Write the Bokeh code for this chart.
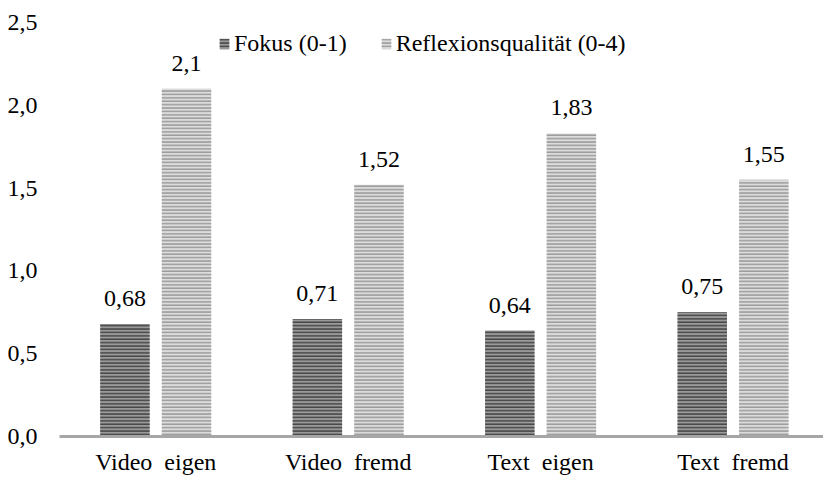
from bokeh.plotting import figure
from bokeh.models import ColumnDataSource, Range1d, FixedTicker, LabelSet, Legend, LegendItem
from bokeh.core.properties import value
from bokeh.transform import dodge
from bokeh.embed import file_html
from bokeh.resources import INLINE

categories = ["Video\u00a0\u00a0eigen", "Video\u00a0\u00a0fremd", "Text\u00a0\u00a0eigen", "Text\u00a0\u00a0fremd"]
fokus = [0.68, 0.71, 0.64, 0.75]
reflexion = [2.1, 1.52, 1.83, 1.55]
series_names = ["Fokus (0-1)", "Reflexionsqualität (0-4)"]
y_ticks = [0.0, 0.5, 1.0, 1.5, 2.0, 2.5]
y_tick_labels = ["0,0", "0,5", "1,0", "1,5", "2,0", "2,5"]

def fmt(v):
    return f"{v:g}".replace(".", ",")

pos = [i + 0.5 for i in range(len(categories))]
src = ColumnDataSource(dict(
    x=pos,
    fokus=fokus,
    reflexion=reflexion,
    fokus_lbl=[fmt(v) for v in fokus],
    refl_lbl=[fmt(v) for v in reflexion],
))

FONT = "Liberation Serif"
FS = "24px"

p = figure(width=823, height=477, output_backend="svg", toolbar_location=None,
           x_range=Range1d(0, 3.97), y_range=Range1d(0, 2.5),
           min_border_left=59, min_border_right=0, min_border_top=22, min_border_bottom=40)
p.outline_line_color = None
p.grid.visible = False

r1 = p.vbar(x=dodge("x", -0.16), top="fokus", width=0.257, source=src,
            fill_color="#9a9a9a", line_color=None,
            hatch_pattern="-", hatch_color="#474747", hatch_scale=3.4, hatch_weight=1.6)
r2 = p.vbar(x=dodge("x", 0.16), top="reflexion", width=0.257, source=src,
            fill_color="#dcdcdc", line_color=None,
            hatch_pattern="-", hatch_color="#9c9c9c", hatch_scale=3.4, hatch_weight=1.6)

for fld, lbl, off in (("fokus", "fokus_lbl", -0.16), ("reflexion", "refl_lbl", 0.16)):
    ls = LabelSet(x=dodge("x", off), y=fld, text=lbl, source=src, y_offset=18,
                  text_align="center", text_baseline="alphabetic",
                  text_font=value(FONT), text_font_size=value(FS), text_color="black")
    p.add_layout(ls)

# x axis
p.xaxis.ticker = FixedTicker(ticks=pos)
p.xaxis.major_label_overrides = {x: c for x, c in zip(pos, categories)}
p.xaxis.axis_line_color = "#a6a6a6"
p.xaxis.axis_line_width = 3
p.xaxis.major_tick_line_color = None
p.xaxis.minor_tick_line_color = None
p.xaxis.major_tick_in = 0
p.xaxis.major_tick_out = 0
p.xaxis.major_label_standoff = 12
p.xaxis.major_label_text_font = FONT
p.xaxis.major_label_text_font_size = FS
p.xaxis.major_label_text_color = "black"

# y axis
p.yaxis.ticker = FixedTicker(ticks=y_ticks)
p.yaxis.major_label_overrides = {t: s for t, s in zip(y_ticks, y_tick_labels)}
p.yaxis.axis_line_color = None
p.yaxis.major_tick_line_color = None
p.yaxis.minor_tick_line_color = None
p.yaxis.major_tick_in = 0
p.yaxis.major_tick_out = 0
p.yaxis.major_label_standoff = 22
p.yaxis.major_label_text_font = FONT
p.yaxis.major_label_text_font_size = FS
p.yaxis.major_label_text_color = "black"

legend = Legend(items=[LegendItem(label=series_names[0], renderers=[r1]),
                       LegendItem(label=series_names[1], renderers=[r2])],
                orientation="horizontal", location=(159, 379),
                padding=0, margin=0, spacing=33, label_standoff=4,
                glyph_width=12, glyph_height=13,
                label_text_font=FONT, label_text_font_size=FS,
                label_text_color="black",
                background_fill_alpha=0, border_line_color=None)
p.add_layout(legend)

open("out.html", "w").write(file_html(p, INLINE))
